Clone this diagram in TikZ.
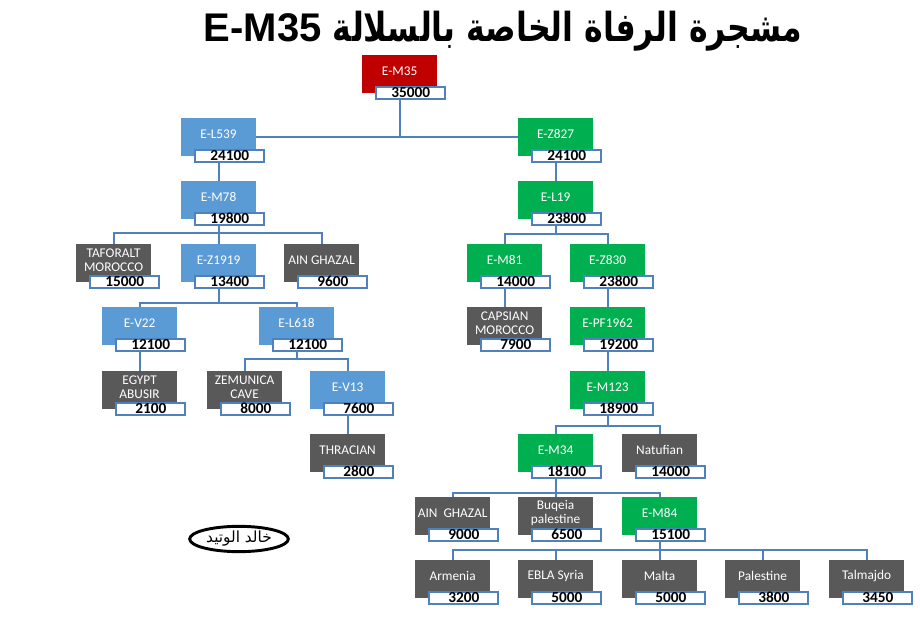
\documentclass[tikz,border=0pt]{standalone}
\usepackage{fontspec}
\setmainfont{Carlito}
\newfontfamily\titlefont{Liberation Sans}
\newfontfamily\arabicfont[Script=Arabic]{DejaVu Sans}
\newfontfamily\arabictitle[Script=Arabic,FakeStretch=0.79]{DejaVu Sans}
\TeXXeTstate=1
\usepackage{tikz}
\usetikzlibrary{calc,shapes.geometric}
\definecolor{hgred}{HTML}{C00000}
\definecolor{hgblue}{HTML}{5B9BD5}
\definecolor{hggreen}{HTML}{00B050}
\definecolor{hggray}{HTML}{595959}
\definecolor{hgline}{HTML}{4F81BD}

% haplogroup box: name, x, y (top left), fill, label, age
\newcommand{\hgnode}[6]{%
  \node[cbox,fill=#4] (#1) at (#2,#3) {};
  \node[ctext] (#1-t) at ([yshift=-12pt]#1.north) {#5};
  \node[nbox] (#1-n) at ([xshift=10pt,yshift=-23pt]#1.north west) {#6};
}
% bus from a parent down to its children
\newcommand{\hgbus}[3]{%
  \foreach \c in {#3}
    \draw[link] (#1.south |- #1-n.south) -- (#1.south |- 0,#2) -| (\c.north);
}

\begin{document}
\begin{tikzpicture}[x=0.75pt,y=-0.75pt,
    cbox/.style={minimum width=56pt,minimum height=28.5pt,inner sep=0pt,anchor=north west},
    ctext/.style={text=white,align=center,font=\fontsize{10}{10.5}\selectfont,inner sep=0pt},
    nbox/.style={draw=hgline,line width=1.4pt,fill=white,minimum width=51.8pt,minimum height=9pt,
      inner sep=0pt,anchor=north west,font=\bfseries\fontsize{11.5}{12}\selectfont},
    link/.style={draw=hgline,line width=1.5pt}]
    % 920 x 620 px page, 1 px = 0.75pt, y grows downwards.
    % Rows start at 55, 118, 181, ... (63 px apart).
    \useasboundingbox (0,0) rectangle (920,620);

    \node[font=\titlefont\bfseries\fontsize{30}{36}\selectfont] (title) at (503,31)
      {\beginR{\arabictitle مشجرة الرفاة الخاصة بالسلالة} \beginL E-M35\endL\endR};

    \hgnode{m35}{362}{55}{hgred}{E-M35}{35000}
    \hgnode{l539}{181}{118}{hgblue}{E-L539}{24100}
    \hgnode{z827}{518}{118}{hggreen}{E-Z827}{24100}
    \hgnode{m78}{181}{181}{hgblue}{E-M78}{19800}
    \hgnode{l19}{518}{181}{hggreen}{E-L19}{23800}
    \hgnode{taf}{76}{244}{hggray}{TAFORALT\\MOROCCO}{15000}
    \hgnode{z1919}{181}{244}{hgblue}{E-Z1919}{13400}
    \hgnode{aing}{284}{244}{hggray}{AIN GHAZAL}{9600}
    \hgnode{m81}{467}{244}{hggreen}{E-M81}{14000}
    \hgnode{z830}{570}{244}{hggreen}{E-Z830}{23800}
    \hgnode{v22}{102}{307}{hgblue}{E-V22}{12100}
    \hgnode{l618}{259}{307}{hgblue}{E-L618}{12100}
    \hgnode{caps}{467}{307}{hggray}{CAPSIAN\\MOROCCO}{7900}
    \hgnode{pf1962}{570}{307}{hggreen}{E-PF1962}{19200}
    \hgnode{egy}{102}{371}{hggray}{EGYPT\\ABUSIR}{2100}
    \hgnode{zem}{207}{371}{hggray}{ZEMUNICA\\CAVE}{8000}
    \hgnode{v13}{310}{371}{hgblue}{E-V13}{7600}
    \hgnode{m123}{570}{371}{hggreen}{E-M123}{18900}
    \hgnode{thr}{310}{434}{hggray}{THRACIAN}{2800}
    \hgnode{m34}{518}{434}{hggreen}{E-M34}{18100}
    \hgnode{nat}{622}{434}{hggray}{Natufian}{14000}
    \hgnode{ain}{415}{497}{hggray}{AIN~~GHAZAL}{9000}
    \hgnode{buq}{518}{497}{hggray}{Buqeia\\palestine}{6500}
    \hgnode{m84}{622}{497}{hggreen}{E-M84}{15100}
    \hgnode{arm}{415}{560}{hggray}{Armenia}{3200}
    \hgnode{ebla}{518}{560}{hggray}{EBLA Syria}{5000}
    \hgnode{malta}{622}{560}{hggray}{Malta}{5000}
    \hgnode{pal}{725}{560}{hggray}{Palestine}{3800}
    \hgnode{tal}{829}{560}{hggray}{Talmajdo}{3450}

    % root splits into the two branches
    \draw[link] (m35.south |- m35-n.south) -- (m35.south |- l539.east);
    \draw[link] (l539.east) -- (z827.west);

    \draw[link] (l539.south |- l539-n.south) -- (m78.north);
    \hgbus{m78}{233}{taf,z1919,aing}
    \hgbus{z1919}{303}{v22,l618}
    \draw[link] (v22.south |- v22-n.south) -- (egy.north);
    \hgbus{l618}{359}{zem,v13}
    \draw[link] (v13.south |- v13-n.south) -- (thr.north);

    \draw[link] (z827.south |- z827-n.south) -- (l19.north);
    \hgbus{l19}{234}{m81,z830}
    \draw[link] (m81.south |- m81-n.south) -- (caps.north);
    \draw[link] (z830.south |- z830-n.south) -- (pf1962.north);
    \draw[link] (pf1962.south |- pf1962-n.south) -- (m123.north);
    \hgbus{m123}{426}{m34,nat}
    \hgbus{m34}{493}{ain,buq,m84}
    \hgbus{m84}{550}{arm,ebla,malta,pal,tal}

    \node[draw,ellipse,line width=2.2pt,minimum width=74pt,minimum height=19pt,inner sep=0pt,
      font=\arabicfont\fontsize{11.5}{12}\selectfont] (sig) at (239,539) {\beginR خالد الوتيد\endR};
\end{tikzpicture}
\end{document}
